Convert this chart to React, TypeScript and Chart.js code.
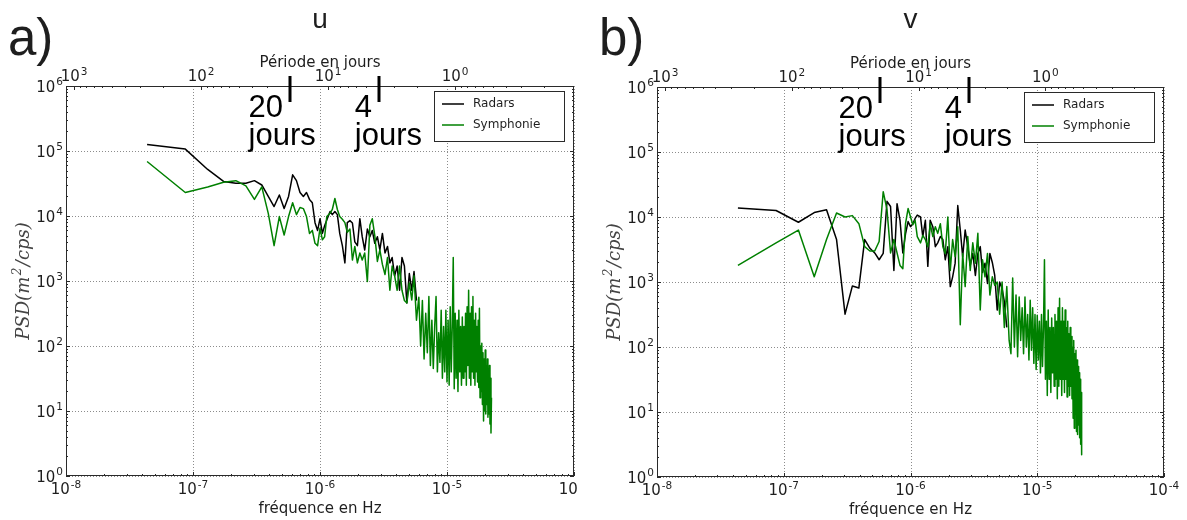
import React, { useEffect, useRef } from "react";
import { Chart, registerables } from "chart.js";

Chart.register(...registerables);

// ---------- DATA ----------
// frequency grid in micro-hertz (1e-6 Hz)
const freqMicroHz = [
  0.0435, 0.087, 0.1305, 0.174, 0.2175, 0.261, 0.3045, 0.348, 0.3915, 0.435,
  0.4785, 0.522, 0.5655, 0.609, 0.6525, 0.696, 0.7395, 0.783, 0.8265, 0.87,
  0.9135, 0.957, 1.0005, 1.044, 1.0875, 1.131,
  1.2, 1.25, 1.31, 1.37, 1.43, 1.5, 1.57, 1.64, 1.72, 1.8, 1.88, 1.97, 2.06,
  2.15, 2.25, 2.36, 2.47, 2.58, 2.7, 2.83, 2.96,
  3.1, 3.25, 3.4, 3.55, 3.7, 3.87, 4.05, 4.23, 4.42, 4.62, 4.83, 5.05, 5.28,
  5.5, 5.75, 6.0,
  6.2, 6.4, 6.6, 6.8, 7.0, 7.2, 7.4, 7.6, 7.8, 8.0, 8.2, 8.4, 8.6, 8.8, 9.0,
  9.2, 9.4, 9.6, 9.8, 10.0,
  10.2, 10.4, 10.6, 10.8, 11.0, 11.2, 11.4, 11.6, 11.8, 12.0, 12.2, 12.4,
  12.6, 12.8, 13.0, 13.2, 13.4, 13.6, 13.8, 14.0,
  14.2, 14.4, 14.6, 14.8, 15.0, 15.2, 15.4, 15.6, 15.8, 16.0, 16.2, 16.4,
  16.6, 16.8, 17.0, 17.2, 17.4, 17.6, 17.8, 18.0,
  18.2, 18.4, 18.6, 18.8, 19.0, 19.2, 19.4, 19.6, 19.8, 20.0, 20.2, 20.4,
  20.6, 20.8, 21.0, 21.2, 21.4, 21.6, 21.8, 22.0, 22.2, 22.4,
];

// PSD (m^2/cps), panel a) u
const radarsU = [
  1.26e5, 1.07e5, 5.2e4, 3.4e4, 3.2e4, 3.2e4, 3.5e4, 3.0e4, 2.0e4, 1.4e4,
  2.1e4, 1.3e4, 2.0e4, 4.3e4, 3.5e4, 2.3e4, 2.0e4, 2.3e4, 1.8e4, 1.6e4,
  7.9e3, 6.0e3, 9.1e3, 5.4e3, 7.1e3, 8.7e3,
  1.17e4, 1.05e4, 1.17e4, 1.05e4, 5.4e3, 3.5e3, 1.9e3, 7.9e3, 8.5e3, 7.8e3,
  4.0e3, 3.5e3, 9.1e3, 4.8e3, 3.0e3, 6.3e3, 4.8e3, 6.0e3, 3.8e3, 4.8e3, 3.0e3,
  5.4e3, 2.7e3, 3.4e3, 1.9e3, 2.3e3, 1.2e3, 1.7e3, 7.2e2, 2.3e3, 1.7e3,
  4.6e2, 1.3e3, 7.2e2, 1.4e3, 5.0e2,
];
const symphonieU = [
  6.9e4, 2.3e4, 2.8e4, 3.3e4, 3.5e4, 2.9e4, 1.8e4, 2.8e4, 1.1e4, 3.5e3,
  9.8e3, 5.1e3, 9.8e3, 1.6e4, 1.05e4, 1.35e4, 1.3e4, 9.8e3, 5.4e3, 6.0e3,
  3.8e3, 3.5e3, 6.5e3, 4.3e3, 4.8e3, 9.8e3,
  1.1e4, 1.26e4, 1.86e4, 1.26e4, 9.8e3, 8.9e3, 7.9e3, 5.6e3, 6.3e3, 2.1e3,
  3.4e3, 1.9e3, 2.7e3, 2.1e3, 2.7e3, 9.8e2, 7.2e3, 9.1e3, 5.0e3, 2.0e3, 3.0e3,
  1.8e3, 1.26e3, 2.3e3, 7.2e2, 1.7e3, 1.2e3, 7.2e2, 1.7e3, 7.2e2, 5.0e2,
  4.6e2, 9.3e2, 5.1e2, 1.2e3, 2.5e2, 5.6e2,
  100, 500, 63, 320, 79, 575, 50, 250, 45, 200, 575, 40, 160, 56, 355, 32,
  200, 40, 355, 28,
  250, 25, 400, 40, 200, 2300, 22, 320, 32, 250, 20, 355, 40, 200, 25, 280,
  32, 200, 40, 320,
  25, 400, 50, 720, 32, 320, 25, 400, 40, 575, 32, 250, 25, 320, 40, 200,
  28, 250, 23, 380,
  16, 100, 20, 110, 12.6, 79, 7, 63, 10, 87, 9, 50, 12.6, 63, 8, 40, 9, 50,
  6.3, 32, 4.6, 16,
];

// PSD (m^2/cps), panel b) v
const radarsV = [
  1.38e4, 1.26e4, 8.3e3, 1.17e4, 1.29e4, 4.5e3, 3.2e2, 8.7e2, 8.1e2, 4.5e3,
  3.3e3, 2.8e3, 2.2e3, 2.75e3, 1.74e4, 1.45e4, 1.5e3, 1.6e4, 8.9e3, 2.8e3,
  5.5e3, 8.5e3, 7.1e3, 7.9e3, 9.5e3, 1.07e4,
  1.0e4, 5.0e3, 8.9e3, 1.74e3, 8.9e3, 7.1e3, 3.5e3, 4.0e3, 5.0e3, 4.5e3,
  2.2e3, 3.5e3, 8.5e2, 1.2e3, 1.95e3, 1.5e4, 6.3e3, 2.45e3, 6.3e3, 3.5e3, 1.8e3,
  2.75e3, 1.26e3, 2.75e3, 3.5e3, 1.4e3, 1.95e3, 9.5e2, 2.75e3, 2.0e3, 1.26e3,
  3.7e2, 1.0e3, 7.9e2, 5.0e2, 2.0e2,
];
const symphonieV = [
  1.8e3, 4.0e3, 6.3e3, 1.2e3, 4.5e3, 1.15e4, 1.0e4, 1.05e4, 7.9e3, 3.5e3,
  3.0e3, 3.0e3, 4.2e3, 2.45e4, 1.3e4, 2.8e3, 4.5e3, 2.8e3, 1.8e3, 1.6e3,
  7.9e3, 1.35e4, 1.0e4, 7.6e3, 8.9e3, 5.0e3,
  4.0e3, 5.2e3, 4.5e3, 3.5e3, 7.9e3, 5.0e3, 7.1e3, 5.6e3, 7.9e3, 3.5e3,
  2.75e3, 1.0e4, 1.5e3, 4.5e3, 2.45e3, 7.1e3, 2.2e2, 2.75e3, 8.5e2, 5.0e3, 1.5e3,
  4.0e3, 1.95e3, 5.6e3, 3.7e2, 2.2e3, 1.2e3, 2.75e3, 6.3e2, 1.2e3, 8.9e2,
  1.0e3, 3.2e2, 1.0e3, 2.0e2, 8.5e2, 1.26e2,
  79, 1150, 100, 630, 71, 590, 126, 400, 79, 590, 100, 316, 63, 525, 89, 400,
  56, 316, 45, 309,
  63, 250, 40, 316, 50, 200, 2200, 32, 250, 18, 370, 32, 200, 20, 280, 40,
  200, 25, 316, 32,
  250, 16, 400, 25, 560, 32, 250, 18, 400, 32, 250, 20, 370, 32, 200, 17,
  250, 25, 160, 18,
  200, 25, 145, 16, 100, 8, 126, 5.6, 79, 10, 89, 5, 63, 4.5, 50, 6.3, 40, 4,
  32, 3.2, 20, 2.2,
];

const seriesNames = ["Radars", "Symphonie"];
const xTickExponents = [-8, -7, -6, -5, -4];
const yTickExponents = [0, 1, 2, 3, 4, 5, 6];
const periodTickDays = [1000, 100, 10, 1];
const periodTickExponents = ["3", "2", "1", "0"];
const markerDays = [20, 4];
const markerLabels = ["20", "4"];
const SECONDS_PER_DAY = 86400;

// ---------- LAYOUT / STYLE ----------
const SANS = '"DejaVu Sans"';
const ARIAL = '"Liberation Sans"';
const TEXT = "#1e1e1e";
const COLORS = ["#000000", "#008000"];

type Panel = {
  letter: string;
  title: string;
  left: number;
  width: number;
  plot: { l: number; r: number; t: number; b: number };
  radars: number[];
  symphonie: number[];
  xLabels: string[];
  xLabelShown: boolean[];
};

const PANELS: Panel[] = [
  {
    letter: "a)",
    title: "u",
    left: 0,
    width: 593,
    plot: { l: 66, r: 574, t: 86, b: 476 },
    radars: radarsU,
    symphonie: symphonieU,
    xLabels: ["-8", "-7", "-6", "-5", "-4"],
    xLabelShown: [true, true, true, true, false],
  },
  {
    letter: "b)",
    title: "v",
    left: 593,
    width: 594,
    plot: { l: 64, r: 571, t: 87, b: 477 },
    radars: radarsV,
    symphonie: symphonieV,
    xLabels: ["-8", "-7", "-6", "-5", "-4"],
    xLabelShown: [true, true, true, true, true],
  },
];

function drawPow(
  ctx: CanvasRenderingContext2D,
  sup: string,
  x: number,
  y: number,
  align: "center" | "right",
  showSup = true
) {
  const baseFont = `15px ${SANS}`;
  const supFont = `10.5px ${SANS}`;
  ctx.font = baseFont;
  const wb = ctx.measureText("10").width;
  ctx.font = supFont;
  const ws = sup ? ctx.measureText(sup).width + 1 : 0;
  const total = wb + ws;
  const x0 = align === "center" ? x - total / 2 : x - total;
  ctx.textAlign = "left";
  ctx.textBaseline = "alphabetic";
  ctx.fillStyle = TEXT;
  ctx.font = baseFont;
  ctx.fillText("10", x0, y);
  if (sup && showSup) {
    ctx.font = supFont;
    ctx.fillText(sup, x0 + wb + 1, y - 6.5);
  }
}

function makePlugin(panel: Panel) {
  return {
    id: "mplStyle",
    beforeDatasetsDraw(chart: any) {
      const ctx: CanvasRenderingContext2D = chart.ctx;
      const sx = chart.scales.x;
      const sy = chart.scales.y;
      const { left, right, top, bottom } = chart.chartArea;
      ctx.save();
      ctx.strokeStyle = "rgba(0,0,0,0.45)";
      ctx.lineWidth = 1;
      ctx.setLineDash([1, 2]);
      xTickExponents.forEach((e) => {
        const x = Math.round(sx.getPixelForValue(Math.pow(10, e))) + 0.5;
        ctx.beginPath();
        ctx.moveTo(x, top);
        ctx.lineTo(x, bottom);
        ctx.stroke();
      });
      yTickExponents.forEach((e) => {
        const y = Math.round(sy.getPixelForValue(Math.pow(10, e))) + 0.5;
        ctx.beginPath();
        ctx.moveTo(left, y);
        ctx.lineTo(right, y);
        ctx.stroke();
      });
      ctx.restore();
    },
    afterDatasetsDraw(chart: any) {
      const ctx: CanvasRenderingContext2D = chart.ctx;
      const sx = chart.scales.x;
      const sy = chart.scales.y;
      const { left, right, top, bottom } = chart.chartArea;
      const cx = (left + right) / 2;
      ctx.save();

      // frame
      ctx.strokeStyle = "#2a2a2a";
      ctx.lineWidth = 1;
      ctx.strokeRect(left + 0.5, top + 0.5, right - left - 1, bottom - top - 1);

      // ticks
      ctx.beginPath();
      for (let e = -8; e <= -5; e++) {
        for (let m = 1; m <= 10; m++) {
          const v = m * Math.pow(10, e);
          const x = Math.round(sx.getPixelForValue(v)) + 0.5;
          const len = m === 1 || m === 10 ? 4 : 2;
          ctx.moveTo(x, bottom);
          ctx.lineTo(x, bottom - len);
        }
      }
      for (let e = 0; e <= 5; e++) {
        for (let m = 1; m <= 10; m++) {
          const v = m * Math.pow(10, e);
          const y = Math.round(sy.getPixelForValue(v)) + 0.5;
          const len = m === 1 || m === 10 ? 4 : 2;
          ctx.moveTo(left, y);
          ctx.lineTo(left + len, y);
          ctx.moveTo(right, y);
          ctx.lineTo(right - len, y);
        }
      }
      for (let k = -1; k <= 3; k++) {
        for (let m = 1; m <= 9; m++) {
          const days = m * Math.pow(10, k);
          const f = 1 / (days * SECONDS_PER_DAY);
          if (f < 1e-8 || f > 1e-4) continue;
          const x = Math.round(sx.getPixelForValue(f)) + 0.5;
          const len = m === 1 ? 4 : 2;
          ctx.moveTo(x, top);
          ctx.lineTo(x, top + len);
        }
      }
      ctx.strokeStyle = "#2a2a2a";
      ctx.stroke();

      // bottom tick labels
      xTickExponents.forEach((e, i) => {
        const x = sx.getPixelForValue(Math.pow(10, e));
        drawPow(ctx, panel.xLabels[i], x, bottom + 18, "center", panel.xLabelShown[i]);
      });
      // left tick labels
      yTickExponents.forEach((e) => {
        const y = sy.getPixelForValue(Math.pow(10, e));
        drawPow(ctx, String(e), left - 3, y + 5.5, "right");
      });
      // top (period) tick labels
      periodTickDays.forEach((d, i) => {
        const x = sx.getPixelForValue(1 / (d * SECONDS_PER_DAY));
        drawPow(ctx, periodTickExponents[i], x, top - 5, "center");
      });

      // axis titles
      ctx.fillStyle = TEXT;
      ctx.textAlign = "center";
      ctx.textBaseline = "alphabetic";
      ctx.font = `15px ${SANS}`;
      ctx.fillText("fréquence en Hz", cx, bottom + 37);
      ctx.fillText("Période en jours", cx, top - 19);

      // y label (mathtext-like)
      ctx.save();
      ctx.translate(left - 37, (top + bottom) / 2);
      ctx.rotate(-Math.PI / 2);
      const lf = `italic 18px "DejaVu Serif"`;
      const sf = `italic 12px "DejaVu Serif"`;
      ctx.font = lf;
      const p1 = "PSD(m";
      const p2 = "/cps)";
      const w1 = ctx.measureText(p1).width;
      const w3 = ctx.measureText(p2).width;
      ctx.font = sf;
      const w2 = ctx.measureText("2").width + 3;
      const tot = w1 + w2 + w3;
      ctx.textAlign = "left";
      ctx.fillStyle = "#444";
      ctx.font = lf;
      ctx.fillText(p1, -tot / 2, 0);
      ctx.font = sf;
      ctx.fillText("2", -tot / 2 + w1 + 1.5, -8);
      ctx.font = lf;
      ctx.fillText(p2, -tot / 2 + w1 + w2, 0);
      ctx.restore();

      // panel title and letter
      ctx.fillStyle = TEXT;
      ctx.textAlign = "center";
      ctx.font = `28px ${ARIAL}`;
      ctx.fillText(panel.title, cx, 28);
      ctx.textAlign = "left";
      ctx.font = `51px ${ARIAL}`;
      ctx.fillText(panel.letter, left - 58, 55);

      // period markers
      markerDays.forEach((d, i) => {
        const x = Math.round(sx.getPixelForValue(1 / (d * SECONDS_PER_DAY)));
        ctx.fillStyle = "#000";
        ctx.fillRect(x - 1.5, top - 10, 3, 26);
        ctx.font = `31px ${ARIAL}`;
        const w = ctx.measureText(markerLabels[i]).width;
        ctx.textAlign = "left";
        ctx.fillText(markerLabels[i], x - 7 - w, top + 31);
        ctx.fillText("jours", x - 7 - w, top + 59);
      });

      // legend
      const bx = right - 140;
      const by = top + 5;
      ctx.fillStyle = "#fff";
      ctx.fillRect(bx, by, 130, 50);
      ctx.strokeStyle = "#2a2a2a";
      ctx.lineWidth = 1;
      ctx.strokeRect(bx + 0.5, by + 0.5, 130, 50);
      seriesNames.forEach((name, i) => {
        const ly = by + 13 + i * 21;
        ctx.strokeStyle = COLORS[i];
        ctx.lineWidth = 1.5;
        ctx.beginPath();
        ctx.moveTo(bx + 8, ly);
        ctx.lineTo(bx + 30, ly);
        ctx.stroke();
        ctx.fillStyle = TEXT;
        ctx.font = `12px ${SANS}`;
        ctx.textBaseline = "middle";
        ctx.fillText(name, bx + 39, ly);
        ctx.textBaseline = "alphabetic";
      });

      ctx.restore();
    },
  };
}

function PanelChart({ panel }: { panel: Panel }) {
  const ref = useRef<HTMLCanvasElement | null>(null);
  useEffect(() => {
    if (!ref.current) return;
    const H = 520;
    const toPoints = (vals: number[]) =>
      vals.map((v, i) => ({ x: freqMicroHz[i] * 1e-6, y: v }));
    const chart = new Chart(ref.current, {
      type: "line",
      data: {
        datasets: [
          {
            label: seriesNames[0],
            data: toPoints(panel.radars),
            borderColor: COLORS[0],
            borderWidth: 1.5,
            pointRadius: 0,
            tension: 0,
            borderJoinStyle: "round",
            order: 1,
          },
          {
            label: seriesNames[1],
            data: toPoints(panel.symphonie),
            borderColor: COLORS[1],
            borderWidth: 1.5,
            pointRadius: 0,
            tension: 0,
            borderJoinStyle: "round",
            order: 0,
          },
        ],
      },
      options: {
        animation: false,
        responsive: false,
        devicePixelRatio: 1,
        layout: {
          padding: {
            left: panel.plot.l,
            right: panel.width - panel.plot.r,
            top: panel.plot.t,
            bottom: H - panel.plot.b,
          },
        },
        scales: {
          x: { type: "logarithmic", min: 1e-8, max: 1e-4, display: false },
          y: { type: "logarithmic", min: 1, max: 1e6, display: false },
        },
        plugins: {
          legend: { display: false },
          tooltip: { enabled: false },
        },
      },
      plugins: [makePlugin(panel)],
    } as any);
    return () => chart.destroy();
  }, [panel]);
  return (
    <canvas
      ref={ref}
      width={panel.width}
      height={520}
      style={{
        position: "absolute",
        left: panel.left,
        top: 0,
        width: panel.width,
        height: 520,
      }}
    />
  );
}

export default function App() {
  return (
    <div
      style={{
        position: "absolute",
        left: 0,
        top: 0,
        width: 1187,
        height: 520,
        background: "#fff",
        overflow: "hidden",
      }}
    >
      {PANELS.map((p) => (
        <PanelChart key={p.title} panel={p} />
      ))}
    </div>
  );
}
